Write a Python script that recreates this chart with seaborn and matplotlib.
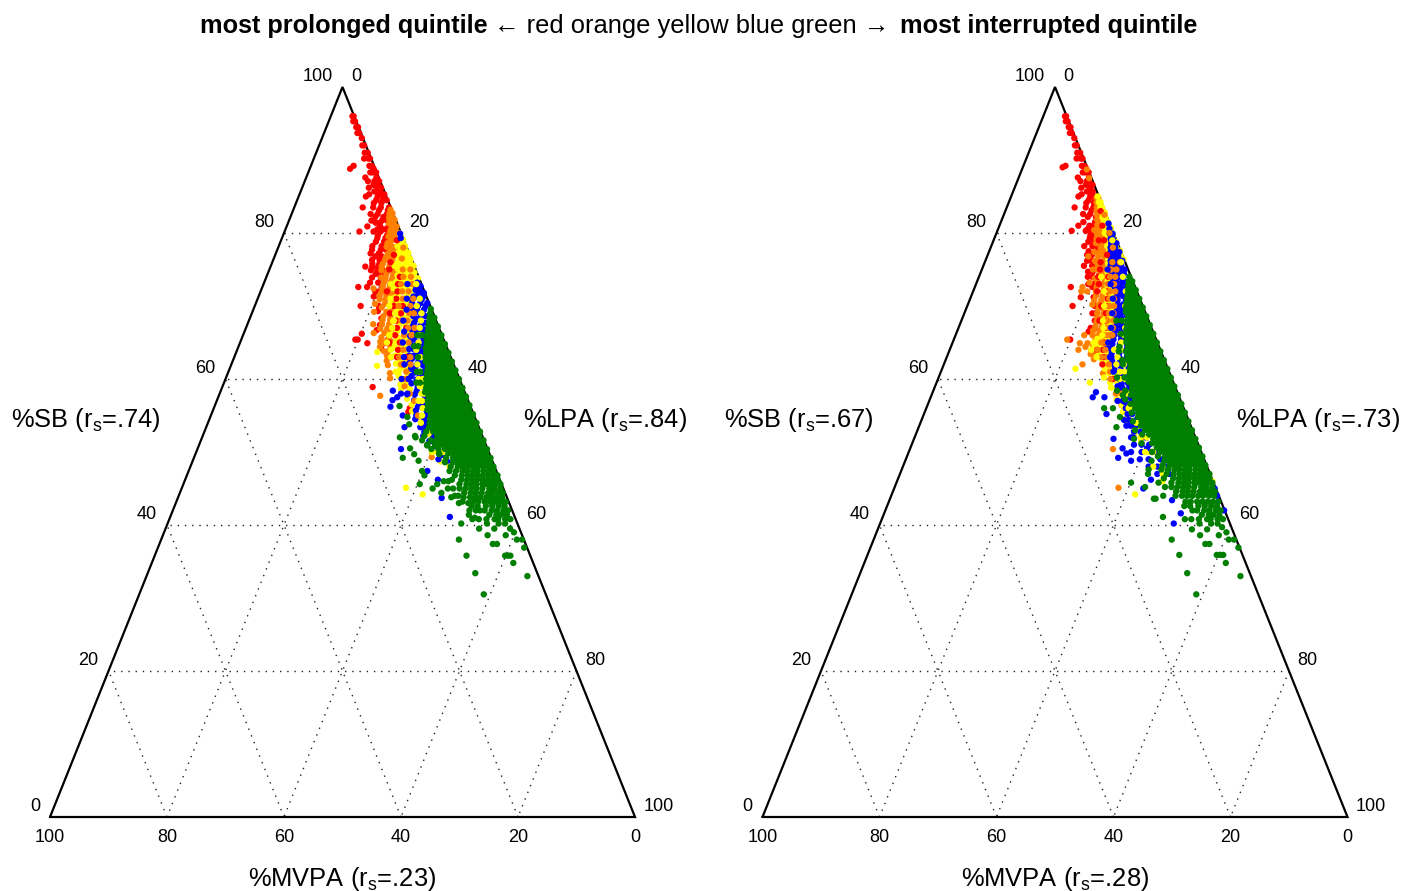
import matplotlib
matplotlib.use("Agg")
import matplotlib.pyplot as plt
import pandas as pd
import seaborn as sns

QUINTILES = ["red", "orange", "yellow", "blue", "green"]
PALETTE = {"red": "#ff0000", "orange": "#ff8000", "yellow": "#ffff00", "blue": "#0000ff", "green": "#007f00"}
TICKS = [0, 20, 40, 60, 80, 100]
LEFT_LABELS = ["%SB (r$_{\\mathrm{s}}$=.74)", "%LPA (r$_{\\mathrm{s}}$=.84)", "%MVPA (r$_{\\mathrm{s}}$=.23)"]
RIGHT_LABELS = ["%SB (r$_{\\mathrm{s}}$=.67)", "%LPA (r$_{\\mathrm{s}}$=.73)", "%MVPA (r$_{\\mathrm{s}}$=.28)"]

# every row: (%SB, [%MVPA of the points read at that %SB])
L_RED = [(96,[.1,.3]),(95.3,[.2,.5]),(94.5,[.1,.4]),(93.7,[.3,.6]),(93,[.2]),(92,[.3,.6]),(91,[.2,.7]),(90.2,[.2,.5,1.2]),(89.2,[.4,.8,3.5]),(88.8,[.3,4.3]),(88.3,[.1,.7,1.1]),(87.6,[.4,2.3]),(87.1,[.2,1,2.1]),(86.6,[.6,1.4]),(86.2,[.3,.9,2.4]),(85.7,[.7,1.7]),(85.3,[.2,1.2,2.8]),(85,[.5,1.5,3.5]),(84.5,[.2,.9,2]),(84.1,[1.3,2.6]),(83.5,[.3,1.7,3,4.8]),(83.1,[.7,2.2]),(82.6,[1.1,2.7,3.9]),(82.2,[.9,1.9,3.3]),(81.7,[1.5,2.4,4.2]),(81.4,[1.1,2.9,3.6]),(80.9,[1.7,3.1,5.3]),(80.5,[2.2,3.8,2.7]),(80.2,[1.9,3.4,4.6,7]),(79.7,[2.5,4.1]),(79.3,[2.1,3,4.4]),(78.8,[3.5,2.7,4.9]),(78.2,[3.2,4.2,5.8]),(77.7,[3.7,4.6,6.1]),(77.2,[3.4,5.2,6.6]),(76.8,[4.9,6]),(76.3,[5.5,6.8]),(75.8,[5.8,7]),(75.4,[6.2,7.2,8.4]),(74.9,[5.6,6.6,7.7]),(74.4,[6.1,7.1]),(73.9,[6.5,8]),(73.2,[7.3,8.7]),(72.6,[6.9,9.5,11]),(72,[7.7,8.4]),(71.3,[8.1,9]),(70,[8.8,11.9]),(69.3,[9.3]),(68.3,[9.2]),(67.4,[9.9]),(66.7,[10.8]),(66.2,[13.6]),(65.4,[14.7,15.1,9.5]),(64.9,[13.3,10.4]),(64.2,[11.3]),(63,[10.2]),(58.9,[15.4]),(56,[10.5]),(55.5,[11])]
L_ORANGE = [(83.2,[.2]),(82.7,[.1,.6]),(82.2,[.4,.9]),(81.8,[.2,1.1]),(81.3,[.6,1.4]),(80.9,[.3,1]),(80.4,[.8,1.6]),(80,[.3,1.3,1.9]),(79.5,[.7,1.7,2.4]),(79,[1.2,2.1]),(78.6,[.9,2.6,3]),(78.1,[1.5,2.3,3.4]),(77.6,[2,2.9]),(77.2,[2.5,3.6]),(76.7,[2.9,3.2,4.2]),(76.3,[3.5,4.6]),(75.8,[3,3.9,5.2]),(75.4,[4.3,5.6]),(74.9,[3.6,4.8,5.9]),(74.4,[4.1,5.3]),(73.9,[4.5,5.7,6.4]),(73.4,[5,6.1]),(72.9,[4.8,6.6,5.4]),(72.4,[5.8,7,8.5]),(71.9,[5.2,6.3,7.4]),(71.4,[6,6.8,8]),(70.9,[5.6,7.2,8.2]),(70.3,[6.4,7.6,9.3]),(69.8,[6.7,8.4]),(69.2,[7.1,7.9,10]),(68.6,[7.5,8.7]),(68.1,[7.8,9.1]),(67.5,[8.3,9.5,11]),(66.9,[8,8.9,10.1]),(66.3,[8.6,9.7,11.5]),(65.7,[9.2,10.5]),(65.1,[9,10,11]),(64.9,[10.6]),(64.4,[9.6,11.4]),(63.8,[10.3,11]),(63.2,[10.8]),(62.5,[11.2]),(61.9,[11.3]),(60.8,[11.5]),(60.1,[11.8]),(57.7,[14.7]),(49.3,[10.1])]
L_YELLOW = [(79.6,[.3]),(79.1,[.1,.7]),(78.6,[.4,1]),(78.2,[.2,.8,1.5]),(77.7,[.5,1.2]),(77.3,[.1,.9,1.8]),(76.8,[.4,1.4,2.2]),(76.4,[.2,.8,1.9]),(75.9,[.5,1.3,2.6]),(75.5,[.1,1.7,2.3,3.3]),(75.1,[.7,1.1,3]),(74.6,[.4,2,2.8]),(74.2,[.9,1.5,3.5]),(73.8,[.2,2.4,3.1]),(73.3,[1.2,1.8,2.7,4.2]),(72.9,[.6,2.2,3.4]),(72.4,[1.5,2.9,3.9,5]),(72,[1,2.5,4.4]),(71.5,[1.8,3.2,4.8]),(71.1,[3,3.7,5.6]),(70.6,[3.4,4.3,5.2]),(70.2,[2.9,3.9,5.1,6.6]),(69.7,[3.6,4.5,5.5]),(69.3,[3.2,3.7,4.9,6]),(68.8,[3.9,4.2,5.9]),(68.4,[3.5,5.2,6.3]),(67.9,[4,4.7,7.4]),(67.5,[4.3,5.6,6.5]),(67,[4.8,5.1,6.9]),(66.6,[5,5.9,7.3]),(66.1,[5.4,6.2,8.5]),(65.7,[5.8,6.7,7.7]),(65.2,[6,7,8.2]),(64.8,[6.4,7.4,8.6]),(64.3,[6.8,7.8,8.9]),(63.7,[7.1,8.3,12.2]),(63.2,[7.4,8.6,9.4]),(62.6,[7.8,8.9]),(62.1,[8.1,9.8]),(61.8,[13.2]),(61.5,[8.4,9.3]),(61,[8.2,9.9]),(60.4,[8.6,10.2]),(59.8,[9,10]),(59.2,[9.5,10.5]),(58.6,[9.2,10.7]),(58,[9.9]),(57.3,[10.3]),(56.5,[9.9]),(55.6,[10.3]),(54.7,[9.2]),(53,[9.4]),(51.5,[9.2]),(50,[9.7]),(48.7,[8.9]),(45.1,[16.6]),(44.2,[14.2])]
L_BLUE = [(79.9,[.2]),(73.2,[.6]),(72.7,[.3,1]),(72.2,[.7,1.4]),(71.8,[.2,1.1]),(71.3,[.5,1.7,2.2]),(70.9,[1,2.6]),(70.4,[.3,1.5,2.9]),(70,[.8,2.1]),(69.5,[1.3,2.5,3.3]),(69.1,[1.8,3]),(68.6,[1.5,2.3,3.6]),(68.2,[2.8,3.3]),(67.7,[1.9,2.4,3.9]),(67.3,[3,4.3]),(66.8,[2.6,3.5,4.8]),(66.4,[3.1,4.1]),(65.9,[3.7,4.6,5.5]),(65.5,[3.3,5.1]),(65,[4,4.7,6]),(64.6,[3.6,5.4]),(64.1,[4.3,5.8,6.6]),(63.7,[4.9,5.3]),(63.2,[4.5,6.2,7]),(62.8,[5.6,6.7]),(62.3,[4.9,5.9,7.3]),(61.9,[5.3,6.4]),(61.4,[5.1,6.9,7.6]),(60.9,[5.7,7.2]),(60.4,[6,6.6,8]),(59.9,[5.5,7.4]),(59.4,[6.2,7,8.5]),(58.9,[6.6,7.7]),(58.4,[6.1,8.1,12.2]),(57.9,[7.2,8.7,10]),(57.5,[6.7,11.9]),(57.1,[7.5,9.2,12.9]),(56.6,[8,8.6]),(56.2,[7.3,9,13.7]),(55.7,[7.8,9.6]),(55,[8.2,9.9,12.2]),(54.5,[8.8,10.3]),(54,[8.4,9.4]),(53.4,[9.1,10,12.7]),(52.8,[8.7,9.6]),(52.2,[8.5,10.1]),(51.5,[8.9,9.4]),(50.8,[8.6]),(50.4,[14.8]),(49.6,[8.1]),(49,[9.1]),(48.6,[7.6]),(47.4,[11.8]),(46.2,[10.6]),(43.7,[11.2]),(41.1,[11.1])]
L_GREEN = [(69.6,[.1]),(69,[.5]),(68.4,[.1,.9]),(67.8,[.5,1.3]),(67.2,[.1,.9,1.7]),(66.6,[.5,1.3,2.1]),(66,[.1,.9,1.7,2.5]),(65.4,[.5,1.3,2.1,2.9]),(64.8,[.1,.9,1.7,2.5,3.2]),(64.2,[.5,1.3,2.1,2.9,3.7]),(63.6,[.1,.9,1.7,2.5,3.3,3.9]),(63,[.5,1.3,2.1,2.9,3.7,4.3]),(62.4,[.1,.9,1.7,2.5,3.3,4.1,4.6]),(61.8,[.5,1.3,2.1,2.9,3.7,4.5]),(61.2,[.1,.9,1.7,2.5,3.3,4.1,4.9]),(60.6,[.5,1.3,2.1,2.9,3.7,4.5,5.3]),(60,[.1,.9,1.7,2.5,3.3,4.1,4.9,5.7]),(59.4,[.5,1.3,2.1,2.9,3.7,4.5,5.3,6]),(58.8,[.1,.9,1.7,2.5,3.3,4.1,4.9,5.7,6.3]),(58.2,[.5,1.3,2.1,2.9,3.7,4.5,5.3,6.1,6.8]),(57.6,[.1,.9,1.7,2.5,3.3,4.1,4.9,5.7,6.5]),(57,[.5,1.3,2.1,2.9,3.7,4.5,5.3,6.1,6.9]),(56.4,[.1,.9,1.7,2.5,3.3,4.1,4.9,5.7,6.5,7.2]),(55.8,[.5,1.3,2.1,2.9,3.7,4.5,5.3,6.1,6.9,7.6]),(55.2,[.1,.9,1.7,2.5,3.3,4.1,4.9,5.7,6.5,7.3]),(54.6,[.5,1.3,2.1,2.9,3.7,4.5,5.3,6.1,6.9,7.7]),(54,[.1,.9,1.7,2.5,3.3,4.1,4.9,5.7,6.5,7.3,8.1]),(53.4,[.5,1.3,2.1,2.9,3.7,4.5,5.3,6.1,6.9,7.7,8.5]),(52.8,[.1,.9,1.7,2.5,3.3,4.1,4.9,5.7,6.5,7.3,8.1,9.3]),(52.2,[.5,1.3,2.1,2.9,3.7,4.5,5.3,6.1,6.9,7.7,9.9,11.5]),(51.6,[.1,.9,1.7,2.5,3.3,4.1,4.9,5.7,6.5,7.3,8.1,9.1,10.6]),(51,[.5,1.3,2.1,2.9,3.7,4.5,5.3,6.1,6.9,7.7,8.7,10]),(50.4,[.1,.9,1.7,2.5,3.3,4.1,4.9,5.7,6.5,7.3,8.4,9.6]),(49.8,[.5,1.3,2.1,2.9,3.7,4.5,5.3,6.1,7,8.6]),(49.2,[.1,.9,1.7,2.5,3.3,4.1,4.9,5.7,6.5,7.7,15.1]),(48.6,[.5,1.3,2.1,2.9,3.7,4.5,5.3,6.1,6.8,8.2]),(48,[.2,1,1.9,2.8,3.6,4.5,5.4,6.3,7.5]),(47.4,[.5,1.3,2.2,3.2,4,5,5.8,6.9,8,12.7]),(46.8,[.1,.9,1.7,2.6,3.5,4.4,5.2,6.2,7.4,12.6]),(46.2,[.4,1.2,2.1,3,3.9,4.7,5.6,6.6,8.2]),(45.6,[.2,1,1.9,2.8,3.3,4.3,5.1,6,7.2,11,14]),(45,[.5,1.5,2.4,3.6,4.6,5.5,6.5,7.5,8.6,12.1]),(44.4,[.4,1.2,2.1,2.9,4,5,5.9,7,10.9]),(43.8,[.8,1.7,2.7,3.5,4.5,5.4,6.3,7.4,9.5]),(43.2,[.5,1.4,2.3,3.2,4.1,5.2,6.1,7.9]),(42.6,[1,2,3.1,4.2,5.6,6.6]),(42,[.7,1.5,2.6,3.5,4.7,5.5]),(41.4,[1.2,2.2,3,4.2,7.7]),(40.8,[.9,1.8,3,3.6,5,6.3,7.4]),(40.2,[2.1,3.2,5.2,9.6]),(39.5,[1.6,4.3,6.9]),(39,[1.2]),(38.6,[2.8,5.9]),(38,[.3,1.2,11.1]),(37.4,[4.9,5.6]),(36.9,[.5]),(35.8,[3.4,3.8,4.3,10.9]),(34.8,[3.4]),(33.4,[10.6]),(33,[1.9]),(30.5,[10.6])]
L_GREEN_FRINGE = [(66,[3.4,4.2]),(64.5,[4.8,5.5]),(63,[5.6]),(61,[6.2,6.8]),(59.5,[7,7.6]),(56.3,[12.1]),(54.8,[11.5]),(53.8,[11.7]),(52,[14.2,11.5]),(50.9,[10.1]),(50.5,[13.2]),(49.7,[12.9,8.6]),(48.8,[12.6]),(46,[8.9,9.7]),(45,[9.5]),(44,[8.2,8.8]),(43,[7,8.6]),(42,[6.2,7.3]),(41,[6.9])]
# points that lie on top of a neighbouring colour in the reference
L_TOP_RED = [(79,[1.2]),(77,[2.7]),(76,[3.8]),(75,[4.5]),(74,[3.2]),(73,[4]),(72,[4.6,6.4]),(71,[5.3]),(70,[4.7,6.2]),(69,[5.5,7.4]),(68,[6.8]),(67,[7.2,5.6]),(66,[8]),(65,[7.7,9.5]),(64,[8.5]),(63,[9.2,7.5]),(62,[8.6]),(60,[8.9])]
L_TOP_ORANGE = [(78,[.6]),(76.5,[1.6]),(75,[2.2,.9]),(74,[2.6,1.3]),(73,[1.6,3.5]),(72,[2.7,3.8]),(71,[2.4,4.2]),(70,[3.4,5.4]),(69,[4.1,3.3]),(68,[4.9,6]),(67,[5.3,4.2]),(66,[6.5,5.2]),(65,[7.3,6.2]),(64,[7.6]),(63,[6.9,8.8]),(62,[7.4,9]),(61,[8.6]),(60,[9.4]),(59,[9.9]),(58,[9.5]),(57,[9.2]),(55,[9.6]),(53,[8.8])]
L_TOP_YELLOW = [(73,[.9,5.2]),(71,[1.3,6.3]),(70,[2.3,7]),(69,[2,6.5]),(68,[2.6,7.2]),(67,[3.3,8]),(66,[3.8,9]),(65,[4.5,9.9]),(64,[5.4,9.7]),(63,[5.2,10.2]),(62,[6.2]),(61,[6.3,10.4]),(60,[7,6.3]),(59,[7.3,6.8]),(58,[7.5,7]),(57,[8.5,7.9]),(56,[8.3]),(55,[8.9]),(54,[9.6]),(52.5,[9]),(51,[8.4]),(50,[8.8,7.8]),(48,[7.7])]
L_TOP_BLUE = [(79.3,[.4]),(73,[2.4]),(71,[3.5]),(69.5,[4.3]),(68,[5.6]),(66.5,[6.2]),(65,[7.2]),(63,[8]),(62,[8.4]),(60,[8.7,9.9]),(58,[9.9,11])]

R_RED = [(96,[.1,.3]),(95.3,[.2,.5]),(94.5,[.1,.4]),(93.7,[.3,.6]),(93,[.2]),(92,[.3,.6]),(91,[.2,.7]),(90.2,[.2,.5,1.2]),(89.2,[.4,.8,3.6]),(89,[.3,4.2]),(88.3,[.1,.7,1.1]),(87.6,[.4,2.3]),(87.1,[.6,1,2.1]),(86.6,[.3,1.4]),(86.2,[.9,2.4]),(85.7,[.7,1.7]),(85.3,[1.2,2.8]),(85,[.5,1.5,3.5]),(84.5,[.9,2]),(84.1,[1.3,2.6]),(83.5,[1.7,3,4.9]),(83.1,[.9,2.2]),(82.6,[1.1,2.7,3.9]),(82.2,[1.9,3.3]),(81.5,[1.5,2.4,4.4]),(81,[2.1,2.9,3.6,5.5]),(80.5,[3.4,4.2]),(80.3,[3.7,4.6,7]),(79.7,[3.2,4.1]),(79.3,[4.4,3.6]),(78.8,[3.9,4.9]),(78.2,[3.7,4.5,5.9]),(77.5,[4.2,5.5]),(77,[5.2,6]),(76.2,[5.7,6.4]),(75.5,[5.9,7.3]),(74.7,[6.2,7]),(74,[6.6,7.4]),(73,[6.9,7.8]),(72.6,[7.3,11]),(71.2,[7.8,10]),(70,[8.2,12]),(69,[8.5,9.1]),(68,[9.2]),(67,[9.7,10.4]),(66.5,[11]),(65.4,[14.7]),(64,[9.5,11]),(63.9,[11.8])]
R_ORANGE = [(88.7,[.2]),(87.5,[.4]),(84.8,[.2,.5]),(84.2,[.3,.8]),(83.5,[.6,1.1]),(83,[.3,1.4]),(82.4,[.8,1.6]),(81.8,[1.1,1.9]),(81.1,[1.4,2.2]),(80.4,[1.7,2.5,3.1]),(79.8,[1.5,2.1,2.9]),(79.2,[2.3,3.3]),(78.6,[1.9,2.7,3.7]),(78,[2.5,3.2]),(77.4,[2.9,3.6,4.6]),(76.8,[3.2,4.2,5.9]),(76.2,[3.5,4.6,5.1]),(75.6,[3.9,4.9]),(75,[3.4,4.3,5.4,6]),(74.4,[4.1,5.1]),(73.8,[4.6,5.7,6.3]),(73.2,[5,6.1,7.5]),(72.6,[5.4,6.6,9]),(72,[5.8,7,8.5,9.5]),(71.4,[6.2,7.3]),(70.8,[5.6,6.7,7.9]),(70.2,[6.3,7.4,8.5]),(69.6,[6.9,7.8]),(69,[7.2,8.3]),(68.4,[7.7,8.6]),(67.8,[8,9]),(67.2,[8.4,9.5]),(66.6,[9.1,10.2]),(66,[9.6,10.6,12]),(65.4,[10.4,15.2]),(64.9,[11,12,13.3]),(64.4,[11.3,12.6]),(64,[14]),(63.4,[11.4,12.2]),(62.7,[12]),(62,[14.3]),(60.8,[11.4]),(56.4,[10.4]),(54,[9.8,10.6]),(50.4,[14.9]),(45.1,[16.6])]
R_YELLOW = [(85,[.2]),(84.2,[.1,.4]),(83.5,[.2,.5]),(82.8,[.1,.6]),(82.1,[.3,.8]),(81.5,[.2,.9]),(80.7,[.1,.6,1.2]),(80,[.2,1,1.5]),(79.4,[.4,1.3]),(78.8,[.2,.9,1.7]),(78.2,[.5,1.4,2]),(77.6,[.1,1.1,1.9]),(77,[.3,1.6,2.4]),(76.4,[.1,2,2.7]),(75.8,[1.4,2.3,3]),(75.2,[1.7,2.7,3.3]),(74.6,[2.1,3,3.7]),(74,[2.4,3.4,4]),(73.4,[2.8,3.6,4.3]),(72.8,[3.1,3.9,4.6]),(72.2,[3.3,4.2,5]),(71.6,[3.6,4.5,5.2]),(71,[3.9,4.8,5.5]),(70.4,[4.2,5.1,5.9]),(69.8,[4.6,5.4,6.2]),(69.2,[4.9,5.7,6.5]),(68.6,[5.1,6,6.9]),(68,[5.4,6.4,7.5]),(67.4,[5.7,6.8,7.7]),(66.8,[6.1,7.1,8.1]),(66.2,[6.6,7.5,8.5]),(65.5,[7.9,8.9,10]),(64.9,[8.3,9.3,10.4]),(64.4,[9.1,10,11]),(63.8,[9.4,10.5]),(63.2,[9.2,9.9,11]),(62.6,[9.6,10.6]),(62,[9.2,10.3]),(61.4,[9.7,10.8,15.8]),(60.8,[9.3,10.4]),(60.2,[9.8,11.5]),(59.5,[9.6,10.8,14.3]),(58.8,[10,11]),(58,[10.2]),(57.2,[9.9,10.9]),(56.4,[10.3]),(55.5,[9.5,10.6]),(54.5,[10,10.8]),(53.5,[9.2,10]),(52.5,[10.2]),(51.5,[9.5]),(50,[9]),(48,[8.2]),(44.2,[14.2])]
R_BLUE = [(81.3,[.2]),(80.6,[.4]),(79.9,[.2,.7]),(79.2,[.5,.9]),(78.6,[.2,1.1]),(78,[.7,1.5]),(77.4,[.3,1.2,1.8]),(76.8,[.8,1.6,2.1]),(76.2,[.4,1.3,2.4]),(75.6,[.9,1.8,2.7]),(75,[.6,1.4,2.3]),(74.4,[1,2,3]),(73.8,[1.5,2.5,3.3]),(73.2,[1.2,2,3]),(72.6,[1.6,2.6,3.5]),(72,[1.4,2.3,3.2]),(71.4,[1.9,2.8,3.7]),(70.8,[1.6,2.5,3.9]),(70.2,[2.4,3.3,4.2]),(69.6,[2.9,3.7,4.6]),(69,[3.2,4.2,5]),(68.4,[3.6,4.5,5.3]),(67.8,[3.9,4.8,5.6]),(67.2,[4.3,5.1,6]),(66.6,[4.5,5.5,6.4]),(66,[4.8,5.8,6.9]),(65.4,[5,6,7.3]),(64.8,[5.3,6.5,7.8]),(64.2,[5.6,6.9,8.3,9]),(63.6,[5.9,7.2,8.5]),(63,[6.2,7.5,8.8]),(62.4,[6.4,7.7,9]),(61.8,[6.6,7.9,8.9]),(61.2,[6.9,8.1,9.2]),(60.6,[7.2,8.3]),(60,[7.5,8.6,9]),(59.4,[7.8,8.9]),(58.8,[7.9,9.1]),(58.2,[8.1,9.4,13.9]),(57.5,[8.4,12.8,14.8]),(56.8,[8.6,9.6]),(56,[8.9,9.9]),(55.2,[9.2,10,13.6]),(54.4,[8.9,10.2,11]),(53.6,[9.4,10.3,11]),(52.8,[9,10.1]),(52,[8.6,10.6,11]),(51.8,[14.1]),(51,[8.4,9.7,11]),(50.5,[9,13.2]),(50,[7.8,10.2,12]),(49.8,[12.9]),(49.2,[14.6]),(49,[7.5,9.5,11]),(48.8,[12.6]),(48,[7,8.5,10]),(47,[7,9]),(46.2,[10.5]),(45,[.2,12.4]),(44,[.3]),(43.4,[8.3]),(42,[.1]),(41.6,[7.7]),(40.2,[9.6])]
R_GREEN = [(74,[.3]),(73.4,[.1,.7]),(72.8,[.4,1.1]),(72.2,[.1,.8,1.4]),(71.6,[.5,1.2,1.8]),(71,[.1,.9,1.6,2.2]),(70.4,[.5,1.3,2,2.6]),(69.8,[.1,.9,1.7,2.4,3]),(69.2,[.5,1.3,2.1,2.9,3.3]),(68.6,[.1,.9,1.7,2.5,3.2]),(68,[.5,1.3,2.1,2.9,3.7,4.6,5.5]),(67.4,[.1,.9,1.7,2.5,3.3,4]),(66.8,[.5,1.3,2.1,2.9,3.7,4.4]),(66.2,[.1,.9,1.7,2.5,3.3,4.1,4.7,5.6]),(65.6,[.5,1.3,2.1,2.9,3.7,4.5,5]),(65,[.1,.9,1.7,2.5,3.3,4.1,4.9,5.3]),(64.4,[.5,1.3,2.1,2.9,3.7,4.5,5.3,6.8]),(63.8,[.1,.9,1.7,2.5,3.3,4.1,4.9,5.6,6,7.2]),(63.2,[.5,1.3,2.1,2.9,3.7,4.5,5.3,6]),(62.6,[.1,.9,1.7,2.5,3.3,4.1,4.9,5.7,6.3,7.2]),(62,[.5,1.3,2.1,2.9,3.7,4.5,5.3,6.1,7.4]),(61.4,[.1,.9,1.7,2.5,3.3,4.1,4.9,5.7,6.5]),(60.8,[.5,1.3,2.1,2.9,3.7,4.5,5.3,6.1,6.8]),(60.2,[.1,.9,1.7,2.5,3.3,4.1,4.9,5.7,6.5,7.2,8,9.3]),(59.6,[.5,1.3,2.1,2.9,3.7,4.5,5.3,6.1,6.9,7.6]),(59,[.1,.9,1.7,2.5,3.3,4.1,4.9,5.7,6.5,7.3]),(58.4,[.5,1.3,2.1,2.9,3.7,4.5,5.3,6.1,6.9,7.7,8.8,10.2]),(57.8,[.1,.9,1.7,2.5,3.3,4.1,4.9,5.7,6.5,7.3,8.1,9.5]),(57.2,[.5,1.3,2.1,2.9,3.7,4.5,5.3,6.1,6.9,7.7,9.4]),(56.6,[.1,.9,1.7,2.5,3.3,4.1,4.9,5.7,6.5,7.3,8.1,8.8]),(56,[.5,1.3,2.1,2.9,3.7,4.5,5.3,6.1,6.9,7.7,8.3,12.1,13.6]),(55.4,[.1,.9,1.7,2.5,3.3,4.1,4.9,5.7,6.5,7.3,8.1,9.2]),(54.8,[.5,1.3,2.1,2.9,3.7,4.5,5.3,6.1,6.9,7.7,8.4,11.5]),(54.2,[.1,.9,1.7,2.5,3.3,4.1,4.9,5.7,6.5,7.3,8.1,9.6]),(53.6,[.5,1.3,2.1,2.9,3.7,4.5,5.3,6.1,6.9,7.7,8.5]),(53.4,[12.8]),(53,[.1,.9,1.7,2.5,3.3,4.1,4.9,5.7,6.5,7.3,8.1,9.8]),(52.4,[.5,1.3,2.1,2.9,3.7,4.5,5.3,6.1,6.9,7.7,8.9]),(51.8,[.1,.9,1.7,2.5,3.3,4.1,4.9,5.7,6.5,7.3,10.6]),(51.2,[.5,1.3,2.1,2.9,3.7,4.5,5.3,6.1,6.9,7.8,9.6]),(50.6,[.1,.9,1.7,2.5,3.3,4.1,4.9,5.7,6.5,7.3]),(50,[.5,1.3,2.1,2.9,3.7,4.5,5.3,6.1,7,8.4]),(49.4,[.1,.9,1.7,2.5,3.3,4.1,4.9,5.7,6.5,7.7]),(48.8,[.5,1.3,2.1,2.9,3.7,4.5,5.3,6.1,6.9,9.1]),(48.2,[.2,1,1.9,2.8,3.6,4.5,5.4,6.3,7.5]),(47.6,[.5,1.3,2.2,3.2,4,5,5.8,6.9,8,10.2]),(47,[.1,.9,1.7,2.6,3.5,4.4,5.2,6.2,7.4,10.6]),(46.4,[.4,1.2,2.1,3,3.9,4.7,5.6,6.6,8.2]),(45.8,[.2,1,1.9,2.8,3.3,4.3,5.1,6,7.2,9.4,14.1]),(45.2,[.5,1.5,2.4,3.6,4.6,5.5,6.5,7.5,8.6,12]),(44.6,[.4,1.2,2.1,2.9,4,5,5.9,7]),(44,[.8,1.7,2.7,3.5,4.5,5.4,6.3,7.4,9.5]),(43.6,[11,11.3]),(43.2,[.5,1.4,2.3,3.2,4.1,5.2,6.1]),(42.6,[1,2,3.1,4.2,5.6,6.6]),(42,[.7,1.5,2.6,3.5,4.7,5.5]),(41.4,[1.2,2.2,3,4.2]),(41.1,[11]),(40.8,[.9,1.8,3,3.6,5,6.3,7.4]),(40.2,[2.1,3.2,5.2]),(39.7,[1.6]),(39.4,[4.3,6.9]),(39,[1.2]),(38.6,[2.7,5.9]),(38,[.4,1.3,11.05]),(37.4,[4.9,5.6]),(36.9,[.2]),(35.9,[3.3,3.8,4.4,10.8]),(34.8,[3.4]),(33.4,[10.7]),(33,[1.8]),(30.5,[10.6])]
R_TOP_RED = [(83,[.7]),(81,[1.4]),(79,[2.1,3]),(77,[2.6]),(76,[4.2]),(75,[3.2,4.8]),(74,[3.9,5.6]),(73,[4.4,6]),(72,[5.1,6.8]),(71,[5.5]),(70,[5.9,7.1]),(69,[6.8]),(68,[7.3,8.4]),(67,[7.8]),(66,[8.8,7.3]),(65,[9.1]),(64,[9.8,10.8]),(63,[10.2]),(62,[10.9]),(60,[10.1])]
R_TOP_ORANGE = [(82.5,[.3]),(80,[.7]),(78,[1.1]),(76,[.9,2.2]),(75,[2,2.9]),(74,[2.7,3.6]),(73,[3.4,4.4]),(72,[3.7,4.6]),(71,[4.4,5.2]),(70,[4.9,5.7]),(69,[5.5,6.3]),(68,[6,7]),(67,[6.6,7.4]),(66,[7.2,8]),(65,[8.6,9.6]),(64,[9.4,10.7]),(63,[9.6,10.6]),(62,[9.8]),(61,[10.1]),(60,[10.5]),(58,[9.6,10.6]),(56,[9.4]),(52,[9.2]),(50,[8.4])]
R_TOP_YELLOW = [(79,[.7]),(76,[.7]),(74,[1.4,5.1]),(72,[1.9,5.6]),(70,[3,6.6]),(68,[3.9,7.8]),(67,[4.5,8.2]),(66,[5.2,8.9]),(65,[6.2,10.9]),(64,[6.8,7.9,11.8]),(63,[7.8,11.4]),(62,[7.2,8.5]),(61,[7.6,8.4]),(60,[8,8.9]),(58,[8.4,9.1]),(56,[9.4,8.6]),(54,[9.1,8.5]),(52,[8.3,9.4]),(50,[8.2,9.6]),(48,[7.6,9.2]),(47,[8.1]),(46,[8.6,.1])]
R_TOP_BLUE = [(75,[3.5]),(73,[4]),(71,[4.6]),(69,[5.7]),(67,[6.9]),(65,[8.4]),(63,[9.1]),(61,[9.5]),(59,[9.8]),(57,[9.9,10.8])]

PANELS = [
    (50, LEFT_LABELS, [("red", L_RED), ("orange", L_ORANGE), ("yellow", L_YELLOW), ("blue", L_BLUE), ("red", L_TOP_RED), ("orange", L_TOP_ORANGE), ("yellow", L_TOP_YELLOW), ("blue", L_TOP_BLUE), ("green", L_GREEN), ("green", L_GREEN_FRINGE)]),
    (762.5, RIGHT_LABELS, [("red", R_RED), ("orange", R_ORANGE), ("yellow", R_YELLOW), ("blue", R_BLUE), ("red", R_TOP_RED), ("orange", R_TOP_ORANGE), ("yellow", R_TOP_YELLOW), ("blue", R_TOP_BLUE), ("green", R_GREEN)]),
]

W, H = 1402, 891
sns.set_theme(style="white")
plt.rcParams["font.family"] = ["Liberation Sans", "DejaVu Sans"]
plt.rcParams["mathtext.fontset"] = "custom"
plt.rcParams["mathtext.rm"] = "Liberation Sans"
plt.rcParams["mathtext.it"] = "Liberation Sans:italic"
plt.rcParams["mathtext.bf"] = "Liberation Sans:bold"
plt.rcParams["mathtext.default"] = "regular"


def ternary(sb, mvpa):
    return 100 - mvpa - sb / 2, sb


def rows_to_frame(layers):
    records = []
    for name, rows in layers:
        for sb, values in rows:
            for mvpa in values:
                x, y = ternary(sb, mvpa)
                records.append({"quintile": name, "x": x, "y": y})
    return pd.DataFrame(records)


fig = plt.figure(figsize=(W / 100, H / 100), dpi=100, facecolor="white")
PX = 0.72
for left, labels, layers in PANELS:
    ax = fig.add_axes([left / W, (H - 817) / H, 585 / W, 730 / H])
    for t in TICKS[1:-1]:
        grid = [[(t, 0), (t, 100 - t)], [(0, t), (100 - t, t)], [(100 - t, 0), (0, 100 - t)]]
        for (s0, m0), (s1, m1) in grid:
            x0, y0 = ternary(s0, m0)
            x1, y1 = ternary(s1, m1)
            ax.plot([x0, x1], [y0, y1], color="#222222", lw=1.0, linestyle=(0, (1, 4.2)), zorder=1)
    cx, cy = zip(ternary(0, 100), ternary(0, 0), ternary(100, 0), ternary(0, 100))
    ax.plot(cx, cy, color="black", lw=1.6, solid_joinstyle="miter", clip_on=False, zorder=2)
    sns.scatterplot(data=rows_to_frame(layers), x="x", y="y", hue="quintile", hue_order=QUINTILES,
                    palette=PALETTE, s=21, linewidth=0, legend=False, ax=ax, zorder=3, clip_on=False)
    ax.set_xlim(0, 100)
    ax.set_ylim(0, 100)
    ax.axis("off")
    for t in TICKS:
        ax.annotate(str(t), ternary(t, 100 - t), xytext=(-10 * PX, 10.5 * PX), textcoords="offset points",
                    ha="right", va="center", fontsize=13, color="black", annotation_clip=False)
        ax.annotate(str(t), ternary(100 - t, 0), xytext=(8.5 * PX, 10.5 * PX), textcoords="offset points",
                    ha="left", va="center", fontsize=13, color="black", annotation_clip=False)
        ax.annotate(str(t), ternary(0, t), xytext=(0, -21 * PX), textcoords="offset points",
                    ha="center", va="center", fontsize=13, color="black", annotation_clip=False)
    ax.text(6.15, 54.45, labels[0], ha="center", va="center", fontsize=18.4, color="black")
    ax.text(94.9, 54.45, labels[1], ha="center", va="center", fontsize=18.4, color="black")
    ax.text(50, -8.45, labels[2], ha="center", va="center", fontsize=18.4, color="black")

fig.text(200 / W, 1 - 26.5 / H, "most prolonged quintile", ha="left", va="center", fontsize=18.2, fontweight="bold", color="black")
fig.text(691.5 / W, 1 - 26.5 / H, "\u2190 red orange yellow blue green \u2192", ha="center", va="center", fontsize=18.4, color="black")
fig.text(900 / W, 1 - 26.5 / H, "most interrupted quintile", ha="left", va="center", fontsize=18.2, fontweight="bold", color="black")

fig.savefig("out.png", dpi=100)
